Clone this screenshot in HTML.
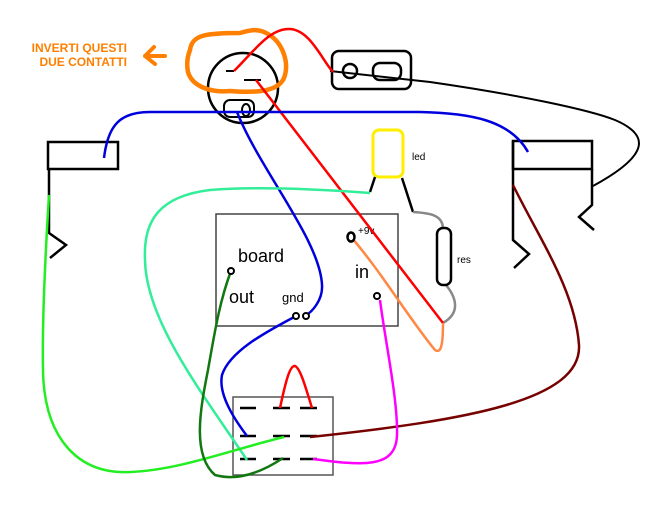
<!DOCTYPE html>
<html><head><meta charset="utf-8"><style>
html,body{margin:0;padding:0;background:#fff;}
svg{display:block;}
text{font-family:"Liberation Sans",Arial,sans-serif;}
</style></head><body>
<svg width="666" height="505" viewBox="0 0 666 505" xmlns="http://www.w3.org/2000/svg">
<rect width="666" height="505" fill="#fff"/>
<!-- orange label -->
<text x="127" y="52" font-size="12" font-weight="bold" fill="#ff7f00" text-anchor="end">INVERTI QUESTI</text>
<text x="127" y="66" font-size="12" font-weight="bold" fill="#ff7f00" text-anchor="end">DUE CONTATTI</text>
<path d="M165 56 L145 56 M154 47 L145 56 L155 64" stroke="#ff7f00" stroke-width="4" fill="none" stroke-linecap="round" stroke-linejoin="round"/>
<!-- jack -->
<circle cx="243" cy="88" r="35" stroke="#000" stroke-width="2.5" fill="none"/>
<path d="M226 71 L234 71 M244 80 L261 80" stroke="#000" stroke-width="2"/>
<rect x="224" y="100" width="30" height="17" rx="6" stroke="#000" stroke-width="2" fill="none"/>
<ellipse cx="246" cy="110" rx="4" ry="6" stroke="#000" stroke-width="2" fill="none"/>
<!-- orange blob -->
<path d="M190 50 C192 35 205 33 240 33 C250 30 258 28 268 34 C282 42 290 62 284 78 C278 92 255 93 230 91 C210 93 192 86 188 72 C186 62 188 55 190 50 Z" stroke="#ff7f00" stroke-width="4.5" fill="none"/>
<!-- small box -->
<rect x="332" y="51" width="79" height="38" rx="7" stroke="#000" stroke-width="2.5" fill="none"/>
<circle cx="350" cy="71" r="7" stroke="#000" stroke-width="2.5" fill="none"/>
<rect x="373" y="63" width="28" height="17" rx="7" stroke="#000" stroke-width="2.5" fill="none"/>
<!-- black long wire -->
<path d="M330 71 L430 82 C520 95 590 110 615 120 C650 135 650 155 593 186" stroke="#000" stroke-width="2" fill="none"/>
<!-- left piezo -->
<rect x="48" y="142" width="70" height="27" stroke="#000" stroke-width="2.5" fill="none"/>
<path d="M49 169 L49 233 L66 245 L50 258" stroke="#000" stroke-width="2.5" fill="none"/>
<!-- right piezo -->
<rect x="513" y="141" width="79" height="28" stroke="#000" stroke-width="2.5" fill="none"/>
<path d="M513 141 L513 240 L529 254 L514 268" stroke="#000" stroke-width="2.5" fill="none"/>
<path d="M592 169 L592 205 L579 217 L594 230" stroke="#000" stroke-width="2.5" fill="none"/>
<!-- board -->
<rect x="216" y="214" width="182" height="112" stroke="#444" stroke-width="1.5" fill="none"/>
<text x="238" y="262" font-size="18" fill="#000">board</text>
<text x="229" y="303" font-size="18" fill="#000">out</text>
<text x="282" y="302" font-size="13" fill="#000">gnd</text>
<text x="358" y="234" font-size="10" fill="#000">+9v</text>
<text x="355" y="278" font-size="18" fill="#000">in</text>
<!-- LED & resistor -->
<rect x="373" y="130" width="30" height="47" rx="6" stroke="#ffee00" stroke-width="3" fill="none"/>
<text x="412" y="160" font-size="10" fill="#000">led</text>
<path d="M375 177 L370 192 M402 178 L413 212" stroke="#000" stroke-width="2.5" fill="none"/>
<path d="M413 212 C430 213 443 215 443 229 M446 285 C455 296 462 312 443 323" stroke="#888" stroke-width="2.5" fill="none"/>
<rect x="437" y="228" width="14" height="57" rx="6" stroke="#000" stroke-width="2.5" fill="none"/>
<text x="457" y="263" font-size="10" fill="#000">res</text>
<!-- switch -->
<rect x="233" y="397" width="100" height="78" stroke="#555" stroke-width="1.5" fill="none"/>
<g stroke="#000" stroke-width="2.5">
<path d="M240 408 L256 408 M273 408 L290 408 M300 408 L317 408"/>
<path d="M240 436 L256 436 M273 436 L290 436 M300 436 L317 436"/>
<path d="M240 459 L256 459 M273 459 L290 459 M300 459 L317 459"/>
</g>
<!-- wires -->
<path d="M280 408 C286 380 290 365 295 366 C300 368 305 385 312 408" stroke="#ff0000" stroke-width="2.5" fill="none"/>
<path d="M234 71 C255 50 270 28 290 29 C310 30 322 60 333 72" stroke="#ff0000" stroke-width="2.5" fill="none"/>
<path d="M256 80 L443 323" stroke="#ff0000" stroke-width="2.5" fill="none"/>
<path d="M104 158 C108 125 120 112 150 112 L420 112 C470 113 510 120 528 152" stroke="#0000dd" stroke-width="2.5" fill="none"/>
<path d="M237 112 C260 170 320 240 322 285 C323 300 312 312 305 316" stroke="#0000dd" stroke-width="2.5" fill="none"/>
<path d="M296 316 C270 330 230 350 222 375 C218 395 235 420 247 436" stroke="#0000dd" stroke-width="2.5" fill="none"/>
<path d="M513 185 C540 240 575 290 579 345 C582 400 470 420 310 437" stroke="#770000" stroke-width="2.5" fill="none"/>
<path d="M370 193 C330 190 260 186 210 190 C160 196 143 220 145 260 C146 320 200 390 247 460" stroke="#33ee99" stroke-width="2.5" fill="none"/>
<path d="M49 195 C45 260 42 320 43 370 C44 440 80 475 130 472 C180 470 230 450 284 437" stroke="#22ee22" stroke-width="2.5" fill="none"/>
<path d="M231 271 C220 300 215 330 208 370 C200 410 192 455 215 475 C240 482 265 470 283 458" stroke="#117711" stroke-width="2.5" fill="none"/>
<path d="M351 237 C380 270 410 320 435 350 C441 354 443 345 443 323" stroke="#ff8844" stroke-width="2.5" fill="none"/>
<path d="M380 300 C385 340 398 400 397 435 C396 470 360 465 313 459" stroke="#ff00ff" stroke-width="2.5" fill="none"/>
<!-- board terminals -->
<g stroke="#000" stroke-width="2" fill="#fff">
<circle cx="231" cy="271" r="3"/>
<ellipse cx="351" cy="237" rx="3.5" ry="4.5" stroke-width="2.5"/>
<circle cx="377" cy="296" r="3"/>
<circle cx="296" cy="316" r="3"/>
<circle cx="306" cy="316" r="3"/>
</g>
</svg>
</body></html>
